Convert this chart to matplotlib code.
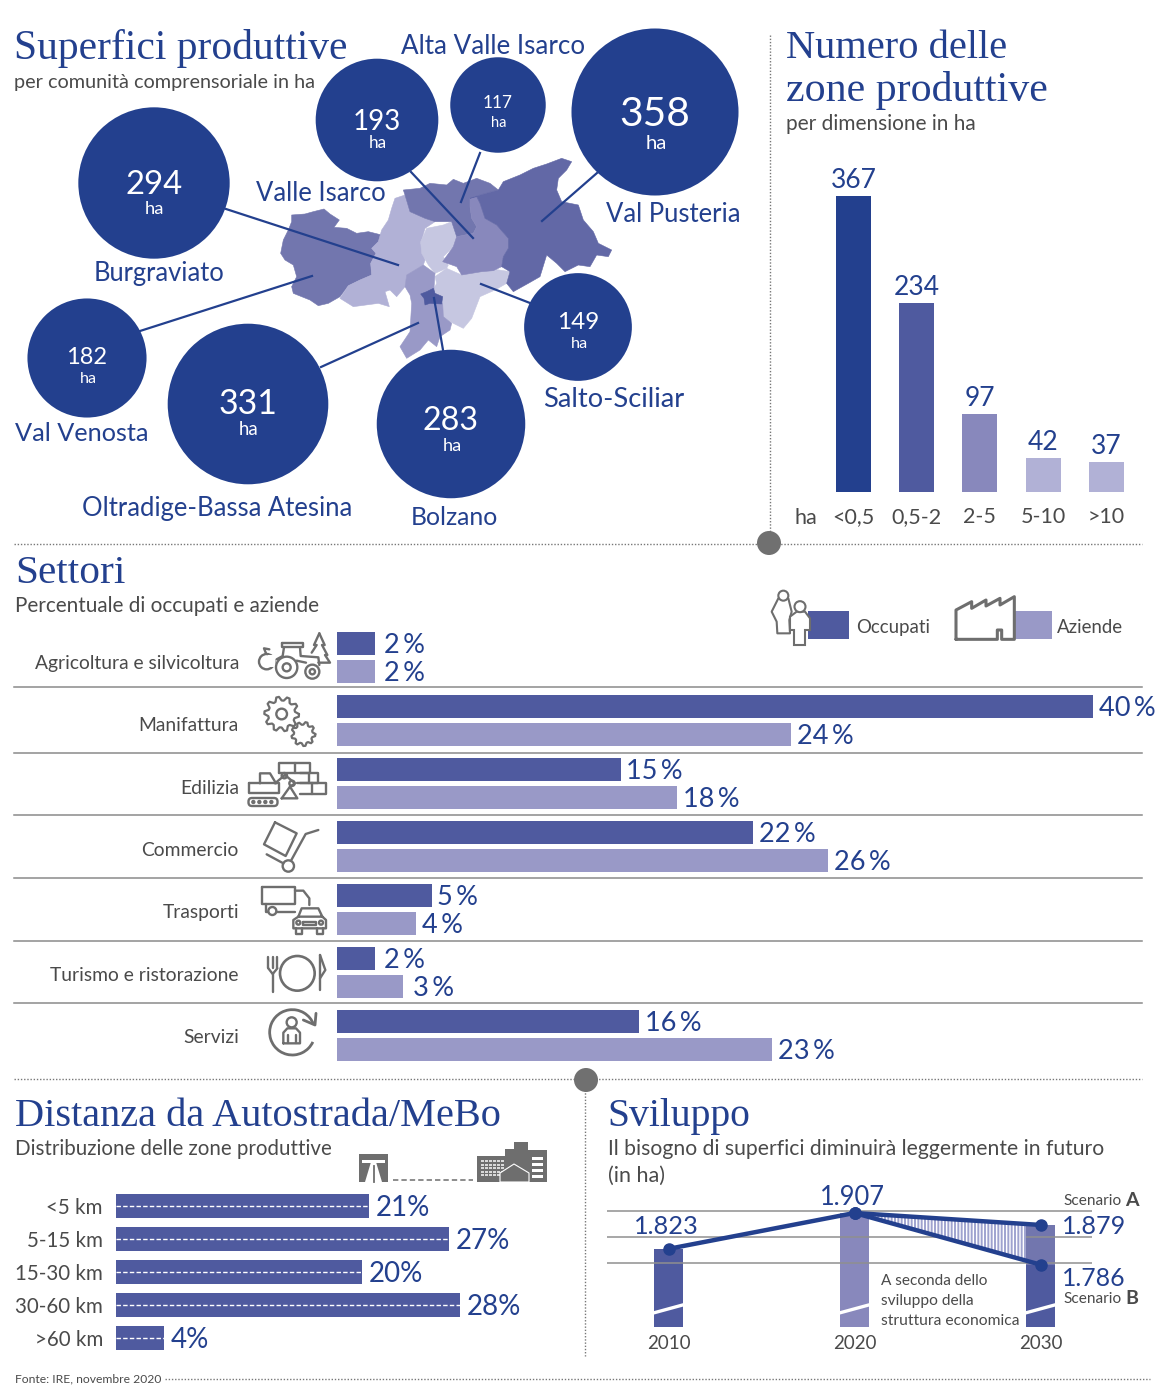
import numpy as np
import matplotlib
matplotlib.use("Agg")
import matplotlib.pyplot as plt
from matplotlib.patches import Polygon, Circle, Rectangle, FancyBboxPatch, Arc

# superfici per comunita' comprensoriale (ha)
comunita = ["Val Venosta", "Burgraviato", "Oltradige-Bassa Atesina", "Bolzano",
            "Salto-Sciliar", "Valle Isarco", "Alta Valle Isarco", "Val Pusteria"]
superfici = [182, 294, 331, 283, 149, 193, 117, 358]

# numero zone per dimensione
dimensioni = ["<0,5", "0,5-2", "2-5", "5-10", ">10"]
numero_zone = [367, 234, 97, 42, 37]

# settori
settori = ["Agricoltura e silvicoltura", "Manifattura", "Edilizia", "Commercio",
           "Trasporti", "Turismo e ristorazione", "Servizi"]
occupati = [2, 40, 15, 22, 5, 2, 16]
aziende = [2, 24, 18, 26, 4.2, 3.5, 23]
occupati_txt = ["2\u2009%", "40\u2009%", "15\u2009%", "22\u2009%", "5\u2009%", "2\u2009%", "16\u2009%"]
aziende_txt = ["2\u2009%", "24\u2009%", "18\u2009%", "26\u2009%", "4\u2009%", "3\u2009%", "23\u2009%"]

# distanza da autostrada
distanze = ["<5 km", "5-15 km", "15-30 km", "30-60 km", ">60 km"]
quota_zone = [20.6, 27.1, 20, 28, 3.9]
quota_txt = ["21%", "27%", "20%", "28%", "4%"]

# sviluppo
anni = [2010, 2020, 2030]
ha_storico = [1823, 1907]
ha_scenario_a = 1879
ha_scenario_b = 1786

# contorni del mappa, coordinate del ritaglio
VENOSTA = [(125,225),(165,222),(190,215),(222,207),(240,222),(268,240),(252,262),(290,265),(320,280),(355,275),
           (395,285),(385,305),(365,325),(378,340),(362,370),(365,405),(330,420),(295,437),(270,470),(235,490),
           (205,497),(180,480),(130,460),(125,440),(140,410),(130,375),(105,360),(92,340),(100,300),(115,270),(125,245)]
BURGRAVIATO = [(435,175),(465,165),(480,215),(525,235),(555,245),(525,265),(512,310),(525,360),(520,375),(470,405),
               (465,440),(440,470),(420,450),(405,455),(418,500),(385,490),(310,500),(270,475),(295,437),(330,420),
               (365,405),(362,370),(378,340),(365,325),(385,305),(395,270),(415,240),(425,205)]
SALTO_SUD = [(555,410),(590,385),(635,405),(690,395),(715,385),(780,395),(770,430),(735,450),(690,470),(665,535),
             (640,565),(600,545),(580,530),(578,490),(555,470),(552,445),(560,430)]
SALTO_NORD = [(530,265),(580,255),(605,245),(620,290),(610,320),(580,350),(595,375),(590,385),(555,400),(535,375),
              (515,340),(512,305)]
ISARCO = [(660,175),(680,170),(690,190),(705,235),(740,255),(775,295),(775,325),(760,350),(755,380),(730,392),
          (695,395),(635,405),(620,380),(578,365),(610,320),(620,290),(670,280),(680,260),(665,235),(660,200)]
ALTA_ISARCO = [(460,150),(510,145),(540,130),(590,135),(610,118),(640,130),(680,115),(720,130),(745,150),(690,165),
               (660,175),(660,200),(665,235),(680,260),(670,280),(620,290),(605,245),(555,245),(525,235),(480,215),(465,165)]
PUSTERIA = [(690,165),(745,150),(760,125),(810,105),(850,85),(890,72),(935,55),(965,65),(950,90),(925,115),
            (920,150),(935,185),(985,195),(1000,240),(1030,275),(1045,310),(1085,330),(1075,350),(1040,345),(1020,380),
            (985,375),(945,395),(920,370),(890,345),(870,410),(835,430),(790,455),(770,430),(780,395),(755,380),
            (760,350),(775,325),(775,295),(740,255),(705,235),(690,190),(680,170),(660,175)]
OLTRADIGE = [(470,405),(520,375),(555,400),(552,445),(555,470),(578,490),(580,530),(605,550),(600,570),(570,590),
             (560,620),(535,600),(510,630),(470,655),(450,620),(480,575),(485,490),(480,465),(465,440)]
BOLZANO = [(512,462),(530,455),(550,445),(555,460),(578,470),(575,492),(540,490),(525,495),(522,475)]

W, H = 1170, 1389
BLU = "#23408E"
B1 = "#4F5A9F"
B2 = "#9999C7"
GRIGIO = "#4A4A4A"
ICONA = "#6E6E6E"
DOTS = (0, (1, 1.3))
SANS = "Lato"
SERIF = "Liberation Serif"

plt.rcParams["hatch.linewidth"] = 1.4

fig = plt.figure(figsize=(W / 100, H / 100), dpi=100, facecolor="white")
bg = fig.add_axes([0, 0, 1, 1])
bg.set_xlim(0, W)
bg.set_ylim(H, 0)
bg.axis("off")
renderer = fig.canvas.get_renderer()


def pixel_axes(x0, y0, x1, y1):
    ax = fig.add_axes([x0 / W, 1 - y1 / H, (x1 - x0) / W, (y1 - y0) / H])
    ax.patch.set_alpha(0)
    for s in ax.spines.values():
        s.set_visible(False)
    return ax


def testo(x, y, s, size, larg=None, color=GRIGIO, family=SANS, ha="left", **kw):
    t = bg.text(x, y, s, fontsize=size, color=color, family=family, ha=ha, va="center", zorder=8, **kw)
    if larg:
        t.set_fontsize(size * larg / t.get_window_extent(renderer).width)
    # va=center sta un po' alto rispetto all'originale
    t.set_y(y + 0.1 * t.get_fontsize())
    return t


def valori(ax, xs, ys, labels, size, pad=4.3):
    for v, r, lab in zip(xs, ys, labels):
        extra = 2.5 if lab[0] in "23" and len(lab) == 3 and "\u2009" in lab else 0
        ax.annotate(lab, (v, r), xytext=(pad + extra, -1.4), textcoords="offset points", va="center",
                    color=BLU, fontsize=size, family=SANS, annotation_clip=False)


def z3(pts, ox=240, oy=620):
    return [(ox + a / 3, oy + b / 3) for a, b in pts]


def lin(pts, lw=1.7, **kw):
    p = z3(pts, **{k: kw.pop(k) for k in list(kw) if k in ("ox", "oy")})
    bg.plot([a for a, b in p], [b for a, b in p], color=kw.pop("color", ICONA), lw=lw,
            solid_capstyle="round", solid_joinstyle="round", zorder=kw.pop("zorder", 6), **kw)


def cerchio(cx, cy, r, lw=1.7, fc="none"):
    a, b = z3([(cx, cy)])[0]
    bg.add_patch(Circle((a, b), r / 3, fc=fc, ec=ICONA, lw=lw, zorder=6))


def ingranaggio(cx, cy, r, denti, foro=0):
    ang = np.linspace(0, 2 * np.pi, denti * 4 + 1)
    rag = np.tile([r, r, r * 0.78, r * 0.78], denti + 1)[:len(ang)]
    lin(list(zip(cx + rag * np.cos(ang), cy + rag * np.sin(ang))), lw=1.6)
    if foro:
        cerchio(cx, cy, foro)


def icone_settori():
    # trattore
    cerchio(80, 125, 23)
    bg.add_patch(Rectangle((240 + 85 / 3, 620 + 105 / 3), 7, 12, fc="white", ec="none", zorder=6))
    lin([(78, 100), (72, 85), (88, 88)])
    lin([(238, 40), (254, 75), (246, 75), (262, 105), (255, 105), (270, 128), (235, 128)])
    lin([(238, 40), (222, 75), (230, 75), (215, 98)])
    cerchio(140, 142, 32, fc="white"); cerchio(140, 142, 12)
    cerchio(217, 155, 21, fc="white"); cerchio(217, 155, 8)
    lin([(125, 70), (188, 70), (188, 82), (125, 82), (125, 70)])
    lin([(132, 82), (128, 108), (110, 118)])
    lin([(180, 82), (182, 108), (235, 112), (238, 135)])
    lin([(170, 122), (198, 128)])
    # ingranaggi
    ingranaggio(125, 282, 52, 10, 16)
    ingranaggio(190, 342, 36, 9)
    # escavatore e mattoni
    bg.add_patch(FancyBboxPatch((248.5, 620 + 534 / 3), 29, 8, boxstyle="round,pad=0,rounding_size=3.5", fc="none", ec=ICONA, lw=1.7, zorder=6))
    for xc in (40, 58, 76, 94):
        cerchio(xc, 546, 3, fc=ICONA)
    lin([(28, 490), (118, 490), (118, 520), (28, 520), (28, 490)])
    lin([(60, 490), (60, 460), (90, 460), (108, 490)])
    lin([(105, 490), (135, 465), (165, 490), (150, 500)])
    lin([(125, 535), (150, 500), (172, 535), (125, 535)])
    cerchio(133, 467, 8); cerchio(156, 490, 8)
    lin([(118, 458), (118, 430), (210, 430), (210, 458), (118, 458)])
    lin([(165, 430), (165, 458)])
    lin([(180, 458), (235, 458), (235, 490), (170, 490)])
    lin([(208, 458), (208, 490)])
    lin([(180, 490), (258, 490), (258, 522), (180, 522)])
    lin([(215, 490), (215, 522)])
    # carrello
    lin([(105, 607), (170, 640), (137, 708), (72, 673), (105, 607)])
    lin([(80, 703), (130, 730)])
    lin([(153, 722), (197, 642), (235, 630)])
    cerchio(145, 738, 17)
    # camion e auto
    lin([(67, 800), (165, 800), (165, 852), (67, 852), (67, 800)])
    lin([(165, 812), (190, 812), (208, 835), (208, 855)])
    lin([(78, 852), (78, 875), (85, 875)])
    lin([(110, 875), (165, 875)])
    cerchio(97, 873, 12)
    bg.add_patch(Rectangle((240 + 162 / 3, 620 + 890 / 3), 98 / 3, 35 / 3, fc="white", ec="none", zorder=5))
    lin([(175, 890), (185, 865), (235, 865), (247, 890), (258, 900), (258, 925), (160, 925), (160, 900), (175, 890), (247, 890)])
    lin([(168, 925), (168, 942), (185, 942), (185, 925)])
    lin([(232, 925), (232, 942), (250, 942), (250, 925)])
    cerchio(175, 908, 6); cerchio(243, 908, 6)
    lin([(190, 905), (228, 905), (228, 915), (190, 915), (190, 905)])
    # posate
    for xc in (85, 98, 112):
        lin([(xc, 1010), (xc, 1045)])
    lin([(85, 1045), (98, 1062), (112, 1045)])
    lin([(98, 1060), (98, 1115)])
    cerchio(172, 1060, 52, lw=1.9)
    lin([(240, 1005), (240, 1110)])
    lin([(240, 1005), (256, 1050), (240, 1075)])
    # servizi
    bg.add_patch(Arc((240 + 157 / 3, 620 + 1237 / 3), 136 / 3, 136 / 3, theta1=25, theta2=340, ec=ICONA, lw=2, zorder=6))
    lin([(190, 1200), (225, 1215), (228, 1180)], lw=2)
    cerchio(155, 1207, 15)
    lin([(130, 1270), (130, 1238), (142, 1225), (168, 1225), (180, 1238), (180, 1270), (130, 1270)])
    lin([(143, 1245), (143, 1270)]); lin([(167, 1245), (167, 1270)])


def icone_legenda():
    lin([(618, 178), (618, 90), (665, 65), (665, 85), (708, 60), (708, 78), (750, 55), (750, 75), (793, 50), (793, 178),
         (755, 178), (755, 150), (742, 150), (742, 178), (618, 178)], lw=2.2, ox=750, oy=580)
    lin([(85, 55), (65, 95), (80, 125), (82, 160), (120, 160), (118, 120), (125, 95), (115, 55)], lw=1.5, ox=750, oy=580)
    bg.add_patch(Circle((750 + 100 / 3, 580 + 47 / 3), 5, fc="white", ec=ICONA, lw=1.5, zorder=6))
    bg.add_patch(Polygon(z3([(120, 110), (140, 95), (165, 95), (180, 115), (180, 150), (165, 150), (165, 195), (132, 195), (132, 150), (120, 150)], 750, 580),
                         fc="white", ec=ICONA, lw=1.5, zorder=6))
    bg.add_patch(Circle((750 + 150 / 3, 580 + 80 / 3), 5.5, fc="white", ec=ICONA, lw=1.5, zorder=6))


def icone_distanza():
    bg.add_patch(Rectangle((359, 1154), 28.5, 28, fc=ICONA, ec="none", zorder=5))
    bg.add_patch(Polygon([(371, 1162), (376, 1162), (382, 1182), (365, 1182)], fc="white", ec="none", zorder=6))
    bg.plot([373.5, 373.5], [1166, 1182], color=ICONA, lw=1.3, zorder=7)
    bg.add_patch(Rectangle((362, 1160), 23, 2.5, fc="white", ec="none", zorder=6))
    bg.plot([393, 473], [1180, 1180], color=ICONA, lw=1.1, ls=(0, (3.5, 2)))
    palazzi = [(477, 1156, 30, 26), (505, 1149, 9, 33), (514, 1142, 14, 40), (527, 1150, 20, 32)]
    for x0, y0, larg, alt in palazzi:
        bg.add_patch(Rectangle((x0, y0), larg, alt, fc=ICONA, ec="none", zorder=5))
    for xf in np.arange(481, 503, 4):
        for yf in np.arange(1160, 1176, 3.5):
            bg.add_patch(Rectangle((xf, yf), 2.6, 2.2, fc="#D8D8D8", ec="none", zorder=6))
    for yf in (1157, 1163, 1169, 1175):
        bg.add_patch(Rectangle((532, yf), 11, 3, fc="white", ec="none", zorder=6))
    bg.add_patch(Polygon([(500, 1182), (500, 1173), (514, 1164), (529, 1173), (529, 1182)], fc=ICONA, ec="white", lw=0.8, zorder=7))


# ---- mappa e cerchi
mappa = [(VENOSTA, "#7276AE"), (BURGRAVIATO, "#B1B1D6"), (SALTO_SUD, "#C6C7E1"), (SALTO_NORD, "#C6C7E1"),
         (ALTA_ISARCO, "#7276AE"), (ISARCO, "#8888BC"), (PUSTERIA, "#6268A6"), (OLTRADIGE, "#9999C7"), (BOLZANO, "#4F5A9F")]
for contorno, col in mappa:
    bg.add_patch(Polygon(z3(contorno, 250, 140), fc=col, ec=col, lw=0.4, zorder=2))

leader = [[(140, 331), (312, 276)], [(226, 209), (398, 265)], [(321, 367), (418, 323)], [(443, 350), (434, 298)],
          [(530, 303), (481, 284)], [(411, 172), (473, 238)], [(480, 153), (461, 202)], [(597, 173), (542, 221)]]
for seg in leader:
    bg.plot(*zip(*seg), color=BLU, lw=1.6, zorder=3)

cx = [87, 154, 248, 451, 578, 377, 498, 655]
cy = [358, 183, 404, 424, 327, 120, 105, 112]
bg.scatter(cx, cy, s=[40.4 * v for v in superfici], color=BLU, linewidths=0, zorder=4)
num_y = [356, 183, 402, 419, 321, 120, 102, 112]
ha_y = [378, 208, 428, 445, 343, 142, 122, 142]
num_l = [41, 57, 59, 56, 42, 48, 30, 71]
for i, v in enumerate(superfici):
    testo(cx[i], num_y[i], str(v), 22, larg=num_l[i], color="white", ha="center")
    testo(cx[i] + 1, ha_y[i], "ha", 7.5 + num_l[i] * 0.1, color="white", ha="center")

nomi_x = [15, 94, 82, 411, 543, 256, 401, 606]
nomi_y = [432, 272, 507, 516, 398, 192, 45, 213]
nomi_l = [133, 131, 270, 87, 141, 129, 184, 134]
for i, n in enumerate(comunita):
    testo(nomi_x[i], nomi_y[i], n, 17, larg=nomi_l[i], color=BLU)

testo(14, 46, "Superfici produttive", 30, larg=333, color=BLU, family=SERIF)
testo(14, 81, "per comunità comprensoriale in ha", 15, larg=302)

# ---- zone per dimensione
ax1 = pixel_axes(790.3, 196, 1156.9, 492)
pos = np.arange(len(numero_zone))
barre = ax1.bar(pos, numero_zone, width=0.554, color=[BLU, B1, "#8888BC", "#B1B1D6", "#B1B1D6"])
ax1.bar_label(barre, padding=2, color=BLU, fontsize=19, family=SANS)
ax1.set_xlim(-1, 4.8)
ax1.set_ylim(0, 367)
ax1.set_yticks([])
ax1.set_xticks(pos, dimensioni, fontsize=15.5, color=GRIGIO, family=SANS)
ax1.tick_params(axis="x", length=0, pad=11)
testo(795, 516, "ha", 15.5)
testo(786, 46, "Numero delle", 30, larg=222, color=BLU, family=SERIF)
testo(786, 87, "zone produttive", 30, larg=262, color=BLU, family=SERIF)
testo(786, 122, "per dimensione in ha", 15, larg=190)

# ---- divisori
bg.plot([770, 770], [35, 544], color="#777777", lw=1, ls=DOTS)
bg.plot([14, 1142], [544, 544], color="#777777", lw=1, ls=DOTS)
bg.plot([14, 1142], [1079, 1079], color="#777777", lw=1, ls=DOTS)
bg.plot([585, 585], [1080, 1356], color="#777777", lw=1, ls=DOTS)
bg.plot([165, 1150], [1379, 1379], color="#777777", lw=1, ls=DOTS)
bg.add_patch(Circle((769, 543), 12, fc="#707070", ec="none", zorder=6))
bg.add_patch(Circle((586, 1080), 12, fc="#707070", ec="none", zorder=6))
testo(15, 1378, "Fonte: IRE, novembre 2020", 9, larg=146)

# ---- settori
testo(15, 571, "Settori", 30, larg=110, color=BLU, family=SERIF)
testo(15, 605, "Percentuale di occupati e aziende", 15, larg=305)
ax2 = pixel_axes(337, 626, 1142, 1067)
righe = np.arange(len(settori))
ax2.barh(righe - 0.222, occupati, height=0.365, color=B1)
ax2.barh(righe + 0.222, aziende, height=0.365, color=B2)
valori(ax2, occupati, righe - 0.222, occupati_txt, 19.5)
valori(ax2, aziende, righe + 0.222, aziende_txt, 19.5)
ax2.set_xlim(0, 805 / 18.9)
ax2.set_ylim(6.5, -0.5)
ax2.set_xticks([])
ax2.set_yticks([])
for yl in [687, 753, 815, 878, 941, 1003]:
    bg.plot([14, 1142], [yl, yl], color="#8A8A8A", lw=1.1)
for i, s in enumerate(settori):
    testo(239, 662 + 62.4 * i, s, 13.9, ha="right")
icone_settori()

bg.add_patch(Rectangle((808, 611), 41, 28, fc=B1, ec="none", zorder=3))
bg.add_patch(Rectangle((1015, 611), 37, 28, fc=B2, ec="none", zorder=3))
testo(856, 626, "Occupati", 15, larg=74)
testo(1057, 626, "Aziende", 15, larg=66)
icone_legenda()

# ---- distanza
testo(15, 1114, "Distanza da Autostrada/MeBo", 30, larg=488, color=BLU, family=SERIF)
testo(15, 1148, "Distribuzione delle zone produttive", 15, larg=317)
ax3 = pixel_axes(116, 1189.5, 560, 1354.5)
righe3 = np.arange(len(quota_zone))
ax3.barh(righe3, quota_zone, height=0.74, color=B1)
valori(ax3, quota_zone, righe3, quota_txt, 20, pad=4.6)
for r, q in zip(righe3, quota_zone):
    ax3.plot([0, q], [r, r], color="white", lw=1, ls=(0, (3.2, 1.6)))
ax3.set_xlim(0, 444 / 12.3)
ax3.set_ylim(4.5, -0.5)
ax3.set_xticks([])
ax3.set_yticks(righe3, distanze, fontsize=14.8, color=GRIGIO, family=SANS)
ax3.tick_params(axis="y", length=0, pad=9.4)
icone_distanza()

# ---- sviluppo
testo(607, 1114, "Sviluppo", 30, larg=143, color=BLU, family=SERIF)
testo(608, 1147, "Il bisogno di superfici diminuirà leggermente in futuro", 15, larg=494)
testo(608, 1174, "(in ha)", 15, larg=57)
ax4 = pixel_axes(607, 1190, 1092, 1327)
ymin = 1640
larg_b = 1.56
ax4.bar(anni[0], ha_storico[0] - ymin, bottom=ymin, width=larg_b, color=B1)
ax4.bar(anni[1], ha_storico[1] - ymin, bottom=ymin, width=larg_b, color="#8888BC")
ax4.bar(anni[2], ha_scenario_b - ymin, bottom=ymin, width=larg_b, color=B1)
ax4.bar(anni[2], ha_scenario_a - ha_scenario_b, bottom=ha_scenario_b, width=larg_b, color="#7276AE")
for g in (1911, 1850, 1790):
    ax4.axhline(g, color="#8F8F8F", lw=1.1, zorder=3)
# taglio dell'asse
for a in anni:
    ax4.plot([a - 0.8, a + 0.8], [ymin + 33, ymin + 52], color="white", lw=2.4, zorder=4, solid_capstyle="butt")
xs = [anni[1], anni[2] - larg_b / 2]
fr = (xs[1] - anni[1]) / (anni[2] - anni[1])
ax4.fill_between(xs, [ha_storico[1], ha_storico[1] + fr * (ha_scenario_a - ha_storico[1])],
                 [ha_storico[1], ha_storico[1] + fr * (ha_scenario_b - ha_storico[1])],
                 facecolor="white", edgecolor="#9FA3CF", hatch="|||||", linewidth=0, zorder=3.5)
ax4.plot(anni[:2], ha_storico, color=BLU, lw=3.2, marker="o", ms=8, zorder=5)
ax4.plot(anni[1:], [ha_storico[1], ha_scenario_a], color=BLU, lw=3.2, marker="o", ms=8, zorder=5)
ax4.plot(anni[1:], [ha_storico[1], ha_scenario_b], color=BLU, lw=3.2, marker="o", ms=8, zorder=5)
ax4.set_xlim(2010 + (607 - 668.5) / 18.6, 2010 + (1092 - 668.5) / 18.6)
ax4.set_ylim(ymin, ymin + 137 / 0.427)
ax4.set_yticks([])
ax4.set_xticks(anni, [str(a) for a in anni], fontsize=13.5, color=GRIGIO, family=SANS)
ax4.tick_params(axis="x", length=0, pad=5.6)

testo(666, 1225, "1.823", 19, larg=65, color=BLU, ha="center")
testo(852, 1196, "1.907", 19, larg=65, color=BLU, ha="center")
testo(1062, 1225, "1.879", 19, larg=64, color=BLU)
testo(1062, 1277, "1.786", 19, larg=63, color=BLU)
testo(1063, 1200, "Scenario", 11.5, larg=58)
testo(1125, 1199, "A", 14, fontweight="bold")
testo(1063, 1298, "Scenario", 11.5, larg=58)
testo(1125, 1297, "B", 14, fontweight="bold")
testo(881, 1280, "A seconda dello", 12, larg=107)
testo(881, 1300, "sviluppo della", 12, larg=93)
testo(881, 1320, "struttura economica", 12, larg=138)

fig.savefig("out.png", dpi=100, facecolor="white")
